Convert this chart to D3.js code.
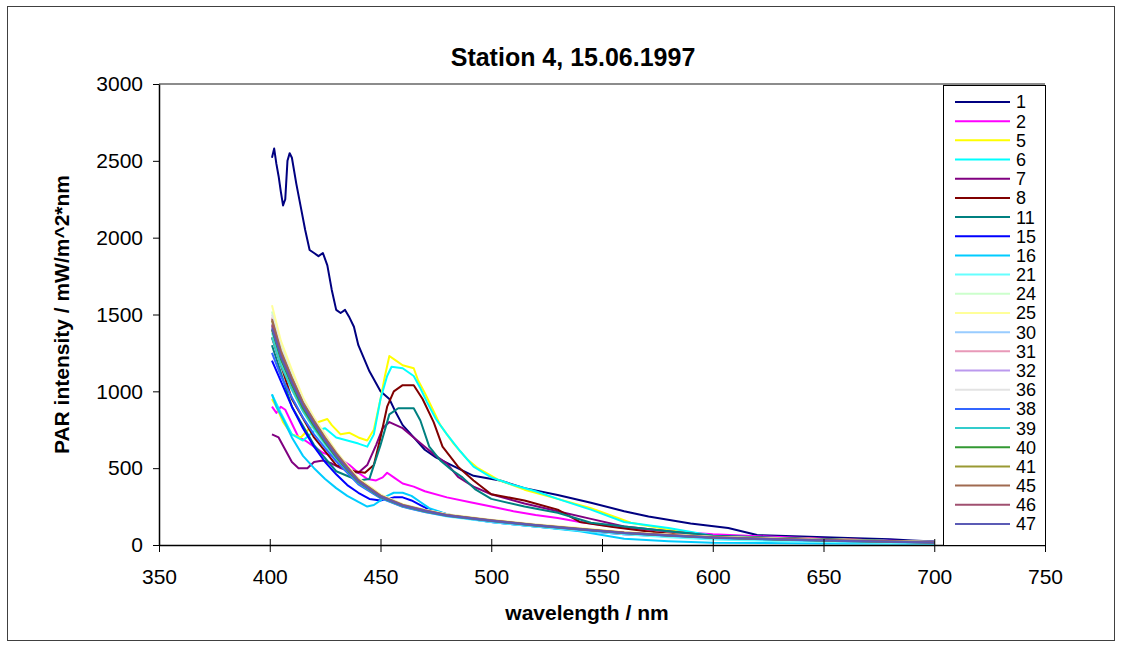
<!DOCTYPE html>
<html>
<head>
<meta charset="utf-8">
<script src="https://cdn.jsdelivr.net/npm/d3@7"></script>
<style>
  body { margin: 0; background: #fff; }
  text { font-family: "Liberation Sans", Arial, sans-serif; }
</style>
</head>
<body>
<div id="chart"></div>
<script>
// station 4 spectra
const wl1  = [401,402,403,404,405,406,407,408,409,410,412,414,416,418,420,422,424,426,428,430,432,434,436,438,440,445,450,454,457,460,465,470,475,482,492,504,515,530,545,560,571,590,607,620,640,661,680,690,700];
const val1 = [2520,2580,2480,2400,2300,2210,2250,2500,2550,2520,2350,2200,2050,1920,1900,1880,1900,1820,1660,1530,1510,1530,1480,1420,1300,1130,1000,950,860,780,700,620,570,520,450,420,370,325,275,220,185,140,110,65,55,45,38,30,22];

const wl2  = [401,403,405,407,409,411,413,416,420,424,428,432,436,440,444,448,451,453,456,460,465,470,480,490,500,510,520,530,540,550,560,580,600,650,700];
const val2 = [900,860,900,880,820,760,700,680,640,600,580,560,520,470,430,420,440,470,440,400,380,350,310,280,250,220,195,175,150,130,110,90,70,40,20];

const wl5  = [401,403,406,410,414,418,422,426,428,432,436,440,444,447,450,452,454,457,460,465,467,470,473,477,483,489,494,503,515,530,545,563,580,593,605,630,668,700];
const val5 = [950,900,800,720,700,760,800,820,780,720,730,700,680,750,950,1100,1230,1200,1170,1150,1070,990,900,780,660,560,500,425,360,300,240,145,100,65,52,45,33,15];

const wl6  = [401,405,410,415,420,425,430,435,440,444,447,450,453,455,460,465,468,471,475,480,486,492,500,510,520,530,545,560,580,600,640,700];
const val6 = [980,860,720,680,740,760,700,680,660,640,720,950,1100,1160,1150,1100,1020,930,820,720,610,510,440,390,350,300,230,150,110,60,40,20];

const wl7  = [401,404,407,410,413,417,420,424,428,432,436,440,444,448,451,454,460,465,470,475,480,485,492,500,515,530,545,560,580,600,650,700];
const val7 = [720,700,620,540,500,500,540,550,530,500,480,470,520,650,760,800,760,700,640,580,530,443,380,330,270,220,170,120,90,60,35,15];

const wl8  = [401,410,420,430,438,443,447,450,453,456,460,465,469,474,478,485,492,500,515,530,540,555,570,586,600,650,700];
const val8 = [1350,950,700,520,480,470,520,700,900,1000,1040,1040,950,800,640,510,420,330,290,230,150,117,90,65,55,35,18];

const wl11  = [401,410,420,430,440,445,450,454,458,465,468,472,477,482,487,493,500,515,530,545,560,580,600,650,700];
const val11 = [1300,900,650,480,420,430,650,850,890,890,810,640,550,490,440,360,300,250,210,145,120,90,60,35,18];

const wl15  = [401,404,407,410,415,420,425,430,435,440,445,450,453,456,460,464,468,472,480,490,500,520,540,560,580,600,650,700];
const val15 = [1200,1100,1000,900,760,640,540,460,390,340,300,290,300,310,310,290,260,230,200,170,150,120,95,70,55,40,25,12];

const wl16  = [401,403,406,410,415,420,425,430,435,440,444,447,450,453,456,460,464,468,472,480,490,500,520,540,560,580,600,650,700];
const val16 = [980,900,820,700,580,500,430,370,320,280,250,260,290,320,340,340,320,280,240,200,170,150,120,90,40,25,15,10,8];

// the grey bundle of deeper casts all share one wavelength grid
const bundleWl = [401,405,410,415,420,425,430,435,440,450,460,470,480,500,520,540,560,580,600,630,660,700];
const val21 = [1380,1190,1020,870,750,650,560,480,400,305,250,215,185,150,120,95,70,50,35,25,18,10];
const val24 = [1520,1300,1120,950,820,710,605,515,430,325,262,228,198,162,132,108,82,66,52,40,30,20];
const val25 = [1560,1330,1140,960,830,720,610,520,435,330,265,230,200,165,135,110,85,68,54,42,30,20];
const val30 = [1420,1220,1050,900,780,670,575,490,410,315,255,222,192,158,128,102,78,62,48,36,26,16];
const val31 = [1480,1270,1090,930,810,700,600,510,425,322,262,226,196,160,130,104,80,64,50,38,28,18];
const val32 = [1440,1240,1070,915,795,685,585,498,418,318,258,224,194,158,128,103,79,63,49,37,27,17];
const val36 = [1500,1290,1100,940,815,705,602,512,428,324,264,229,198,163,133,107,82,66,51,39,29,19];
const val38 = [1250,1100,960,830,720,630,545,470,395,305,248,215,188,154,125,100,76,60,46,34,24,14];
const val39 = [1350,1170,1010,870,760,660,565,485,405,310,252,218,190,156,126,101,77,61,47,35,25,15];
const val40 = [1400,1210,1040,890,775,668,572,488,410,312,255,220,192,157,127,102,78,62,48,36,26,16];
const val41 = [1460,1255,1085,925,805,695,595,505,422,320,260,225,195,160,130,104,80,64,50,38,28,18];
const val45 = [1470,1265,1088,928,808,698,598,508,424,321,261,226,196,161,131,105,81,65,51,39,29,19];
const val46 = [1430,1235,1065,910,792,682,583,496,416,316,257,223,193,159,129,103,79,63,49,37,27,17];
const val47 = [1410,1225,1055,905,788,678,580,494,414,314,256,221,192,158,128,102,78,62,48,36,26,16];

const names  = ["1","2","5","6","7","8","11","15","16","21","24","25","30","31","32","36","38","39","40","41","45","46","47"];
const colors = ["#000080","#ff00ff","#ffff00","#00ffff","#800080","#800000","#008080","#0000ff","#00ccff","#66ffff","#ccffcc","#ffff99",
                "#99ccff","#e899b8","#bb99ee","#e3e3e3","#3366ff","#33cccc","#339933","#999933","#a06a50","#a05070","#5b5bb5"];
const xTicks = [350,400,450,500,550,600,650,700,750];
const yTicks = [0,500,1000,1500,2000,2500,3000];

const wls  = [wl1,wl2,wl5,wl6,wl7,wl8,wl11,wl15,wl16,bundleWl,bundleWl,bundleWl,bundleWl,bundleWl,bundleWl,bundleWl,bundleWl,bundleWl,bundleWl,bundleWl,bundleWl,bundleWl,bundleWl];
const vals = [val1,val2,val5,val6,val7,val8,val11,val15,val16,val21,val24,val25,val30,val31,val32,val36,val38,val39,val40,val41,val45,val46,val47];

const series = names.map((n, i) => ({
  name: n,
  color: colors[i],
  points: wls[i].map((w, j) => [w, vals[i][j]])
}));

const width = 1122, height = 648;
const margin = ({top: 84, right: 77, bottom: 103, left: 159});

let x = d3.scaleLinear()
    .domain([350, 750])
    .range([margin.left, width - margin.right]);

let y = d3.scaleLinear()
    .domain([0, 3000])
    .range([height - margin.bottom, margin.top]);

let line = d3.line()
    .x(d => x(d[0]))
    .y(d => y(d[1]));

let svg = d3.select("#chart").append("svg").attr("width", width).attr("height", height);

// chart area border
svg.append("rect")
  .attr("x", 7.5).attr("y", 6.5)
  .attr("width", 1107).attr("height", 634)
  .attr("fill", "none").attr("stroke", "#404040");

// plot area top edge
svg.append("line")
  .attr("x1", x(350)).attr("x2", x(750))
  .attr("y1", y(3000)).attr("y2", y(3000))
  .attr("stroke", "#8c8c8c").attr("stroke-width", 2);

svg.append("text")
  .attr("x", 573).attr("y", 66)
  .attr("text-anchor", "middle")
  .attr("font-weight", "bold").attr("font-size", 25)
  .text("Station 4, 15.06.1997");

let lines = svg.append("g");
lines.selectAll("path")
  .data(series)
  .enter().append("path")
    .attr("fill", "none")
    .attr("stroke", d => d.color)
    .attr("stroke-width", 2)
    .attr("stroke-linejoin", "round")
    .attr("d", d => line(d.points));

let xAxis = d3.axisBottom(x).tickValues(xTicks).tickSize(7).tickSizeOuter(0);
let yAxis = d3.axisLeft(y).tickValues(yTicks).tickFormat(d3.format("d"))
    .tickSize(6).tickSizeOuter(0).tickPadding(10);

let gx = svg.append("g")
  .attr("transform", `translate(0,${y(0)})`)
  .call(xAxis);
gx.selectAll(".tick line").attr("y1", -6);
gx.selectAll(".tick text").attr("y", 39).attr("dy", 0)
  .attr("font-size", 21).attr("font-family", "Liberation Sans, Arial, sans-serif");
gx.select(".domain").attr("stroke-width", 1.5);

let gy = svg.append("g")
  .attr("transform", `translate(${x(350)},0)`)
  .call(yAxis);
gy.selectAll(".tick text")
  .attr("font-size", 21).attr("font-family", "Liberation Sans, Arial, sans-serif");
gy.select(".domain").attr("stroke-width", 1.5);

// axis titles
svg.append("text")
  .attr("x", 587).attr("y", 620)
  .attr("text-anchor", "middle")
  .attr("font-weight", "bold").attr("font-size", 21)
  .text("wavelength / nm");

svg.append("text")
  .attr("transform", `translate(69,${(y(0) + y(3000)) / 2}) rotate(-90)`)
  .attr("text-anchor", "middle")
  .attr("font-weight", "bold").attr("font-size", 21)
  .text("PAR intensity / mW/m^2*nm");

// legend box over the right of the plot
let legend = svg.append("g");
legend.append("rect")
  .attr("x", 943.5).attr("y", 85.5)
  .attr("width", 102).attr("height", 460)
  .attr("fill", "#fff").attr("stroke", "#000");

let item = legend.selectAll("g.item")
  .data(series)
  .enter().append("g").classed("item", true)
    .attr("transform", (d, i) => `translate(0,${102 + i * 19.18})`);
item.append("line")
  .attr("x1", 955).attr("x2", 1010)
  .attr("stroke", d => d.color).attr("stroke-width", 2);
item.append("text")
  .attr("x", 1016).attr("dy", "0.36em")
  .attr("font-size", 18)
  .text(d => d.name);
</script>
</body>
</html>
